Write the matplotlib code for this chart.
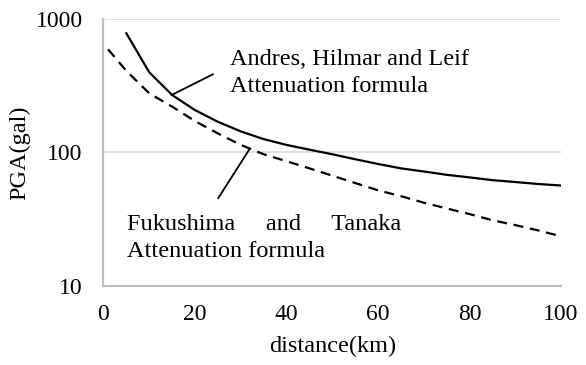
import numpy as np
import matplotlib
matplotlib.use("Agg")
import matplotlib.pyplot as plt

# PGA attenuation with epicentral distance
dist_ahl = [5, 10, 15, 20, 25, 30, 35, 40, 45, 50, 55, 60, 65, 70, 75, 80, 85, 90, 95, 100]
pga_ahl = [785, 400, 270, 208, 170, 144, 126, 114, 105, 97, 89, 82, 76, 72, 68, 65, 62, 60, 58, 56.5]

dist_ft = [1, 5, 10, 15, 20, 25, 30, 35, 40, 45, 50, 55, 60, 65, 70, 75, 80, 85, 90, 95, 100]
pga_ft = [595, 410, 278, 221, 172, 139, 114, 97, 86, 76, 67, 59, 52, 47, 42, 38, 34.5, 31, 28.5, 26, 23.5]

x_ticks = [0, 20, 40, 60, 80, 100]
y_ticks = [10, 100, 1000]

plt.rcParams['font.family'] = ['Liberation Serif', 'DejaVu Serif']

fig = plt.figure(figsize=(5.86, 3.65), dpi=100)
ax = fig.add_axes([0.1766, 0.2173, 0.7807, 0.7299])

grid_c = '#d9d9d9'
spine_c = '#bfbfbf'

ax.plot(dist_ahl, pga_ahl, color='black', lw=1.6, solid_joinstyle='miter', zorder=3)
ax.plot(dist_ft, pga_ft, color='black', lw=1.6, linestyle=(0, (4.5, 3)), zorder=3)

ax.set_yscale('log')
ax.set_xlim(0, 100)
ax.set_ylim(10, 1000)
ax.set_xticks(x_ticks)
ax.set_xticklabels([str(v) for v in x_ticks])
ax.set_yticks(y_ticks)
ax.set_yticklabels([str(v) for v in y_ticks])
ax.yaxis.set_minor_locator(matplotlib.ticker.NullLocator())
ax.tick_params(axis='both', length=0, labelsize=17)
ax.tick_params(axis='y', pad=15)
ax.tick_params(axis='x', pad=13)

ax.grid(axis='y', color=grid_c, lw=1.2, zorder=0)
for side in ['top', 'right']:
    ax.spines[side].set_visible(False)
for side in ['left', 'bottom']:
    ax.spines[side].set_color(spine_c)
    ax.spines[side].set_linewidth(1.6)

ax.set_xlabel('distance(km)', fontsize=17.5, labelpad=8)
ax.set_ylabel('PGA(gal)', fontsize=17.5, labelpad=4)

# leader lines and labels for the two formulas
ax.plot([14.9, 23.9], [270, 386], color='black', lw=1.3, zorder=4)
ax.text(27.6, 395, 'Andres, Hilmar and Leif\nAttenuation formula',
        fontsize=17.5, va='center', ha='left', linespacing=1.35)

ax.plot([25.1, 32.0], [45.5, 107], color='black', lw=1.3, zorder=4)
ax.text(5.1, 22.9, 'Fukushima     and     Tanaka\nAttenuation formula',
        fontsize=17.5, va='center', ha='left', linespacing=1.35)

fig.text(0.475, 1.02, 'Comparison (PGA)', fontsize=17.5, ha='center', va='baseline')

fig.savefig('out.png', dpi=100)
